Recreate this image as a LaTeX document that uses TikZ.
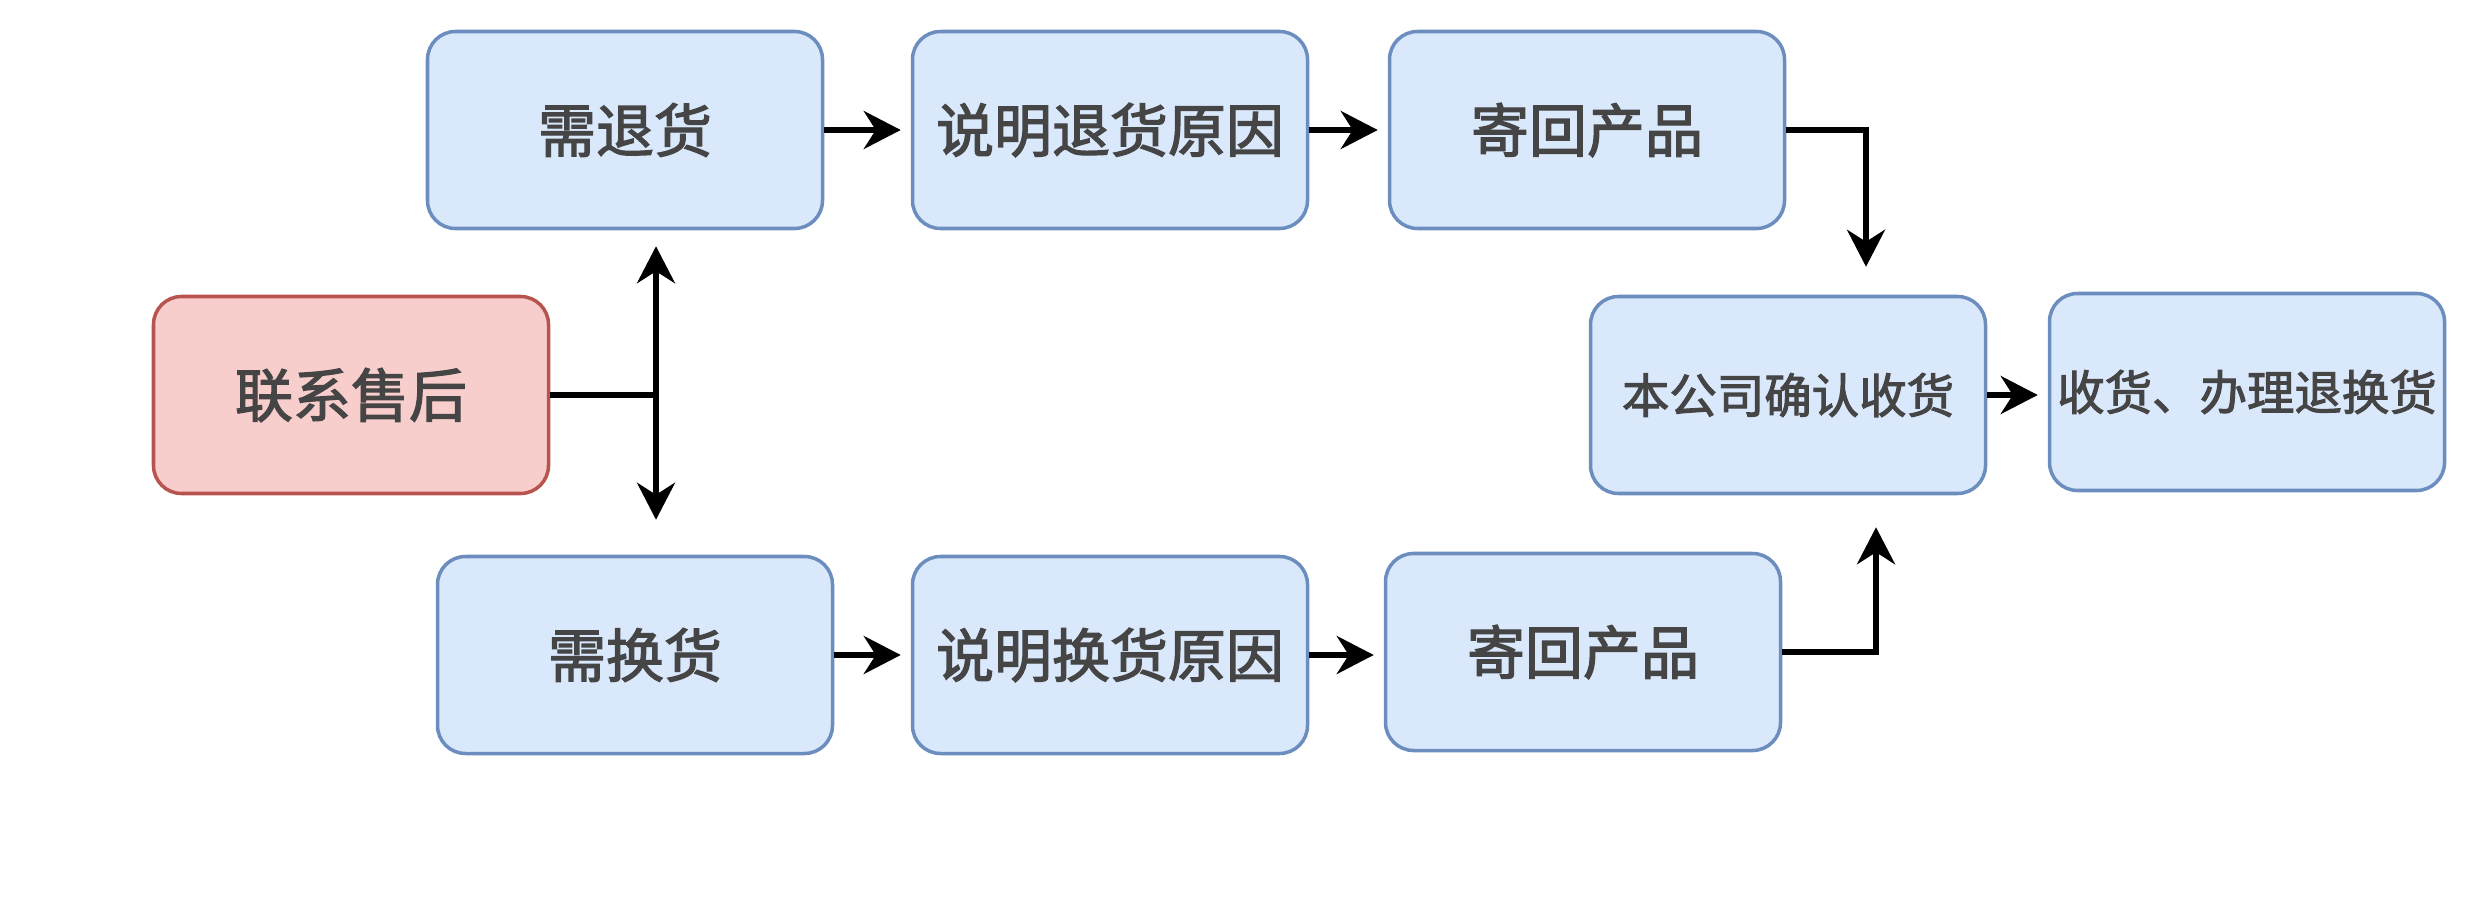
\documentclass[tikz,border=0pt]{standalone}
\usepackage{fontspec}
\usepackage{tikz}
\usetikzlibrary{arrows.meta}
\newfontfamily\cjk[FakeBold=2.2]{Noto Sans CJK SC}
\definecolor{boxfill}{HTML}{DAE8FC}
\definecolor{boxline}{HTML}{6C8EBF}
\definecolor{redfill}{HTML}{F8CECC}
\definecolor{redline}{HTML}{B85450}
\definecolor{txt}{HTML}{454545}

\begin{document}
\begin{tikzpicture}[
    box/.style={draw=boxline, fill=boxfill, line width=1pt, rounded corners=0.28cm,
        minimum width=3.95cm, minimum height=1.97cm, text=txt,
        font=\cjk\fontsize{16.5pt}{20pt}\selectfont},
    smallbox/.style={box, inner xsep=0.05cm, font=\cjk\fontsize{13.5pt}{17pt}\selectfont},
    redbox/.style={box, draw=redline, fill=redfill},
    arr/.style={-{Stealth[length=0.37cm, width=0.38cm, inset=0.12cm]}, line width=1.5pt},
    dbl/.style={{Stealth[length=0.37cm, width=0.38cm, inset=0.12cm]}-{Stealth[length=0.37cm, width=0.38cm, inset=0.12cm]}, line width=1.5pt}
]

    \useasboundingbox (0,0) rectangle (24.8,-9.24);

    %boxes
    \node[redbox] (hs) at (3.51,-3.95) {联系售后};
    \node[box] (th) at (6.25,-1.30) {需退货};
    \node[box] (ty) at (11.10,-1.30) {说明退货原因};
    \node[box] (tj) at (15.87,-1.30) {寄回产品};
    \node[box] (hh) at (6.35,-6.55) {需换货};
    \node[box] (hy) at (11.10,-6.55) {说明换货原因};
    \node[box] (bj) at (15.83,-6.52) {寄回产品};
    \node[smallbox] (qr) at (17.88,-3.95) {本公司确认收货};
    \node[smallbox] (sh) at (22.47,-3.92) {收货、办理退换货};

    %split
    \coordinate (split) at (6.56,-3.95);
    \draw[line width=1.5pt] (hs.east) -- (split);
    \draw[dbl] (split |- th.south) ++(0,-0.16) -- ([yshift=0.35cm]split |- hh.north);

    %rows
    \draw[arr, shorten >=0.1cm] (th) -- (ty);
    \draw[arr, shorten >=0.1cm] (ty) -- (tj);
    \draw[arr, shorten >=0.1cm] (hh.east |- hy) -- (hy);
    \draw[arr, shorten >=0.1cm] (hy) -- (bj.west |- hy);

    %right
    \draw[arr, shorten >=0.28cm] (tj.east) -| ([xshift=0.78cm]qr.north);
    \draw[arr, shorten >=0.32cm] (bj.east) -| ([xshift=0.88cm]qr.south);
    \draw[arr, shorten >=0.1cm] (qr.east) -- (qr -| sh.west);

\end{tikzpicture}
\end{document}
